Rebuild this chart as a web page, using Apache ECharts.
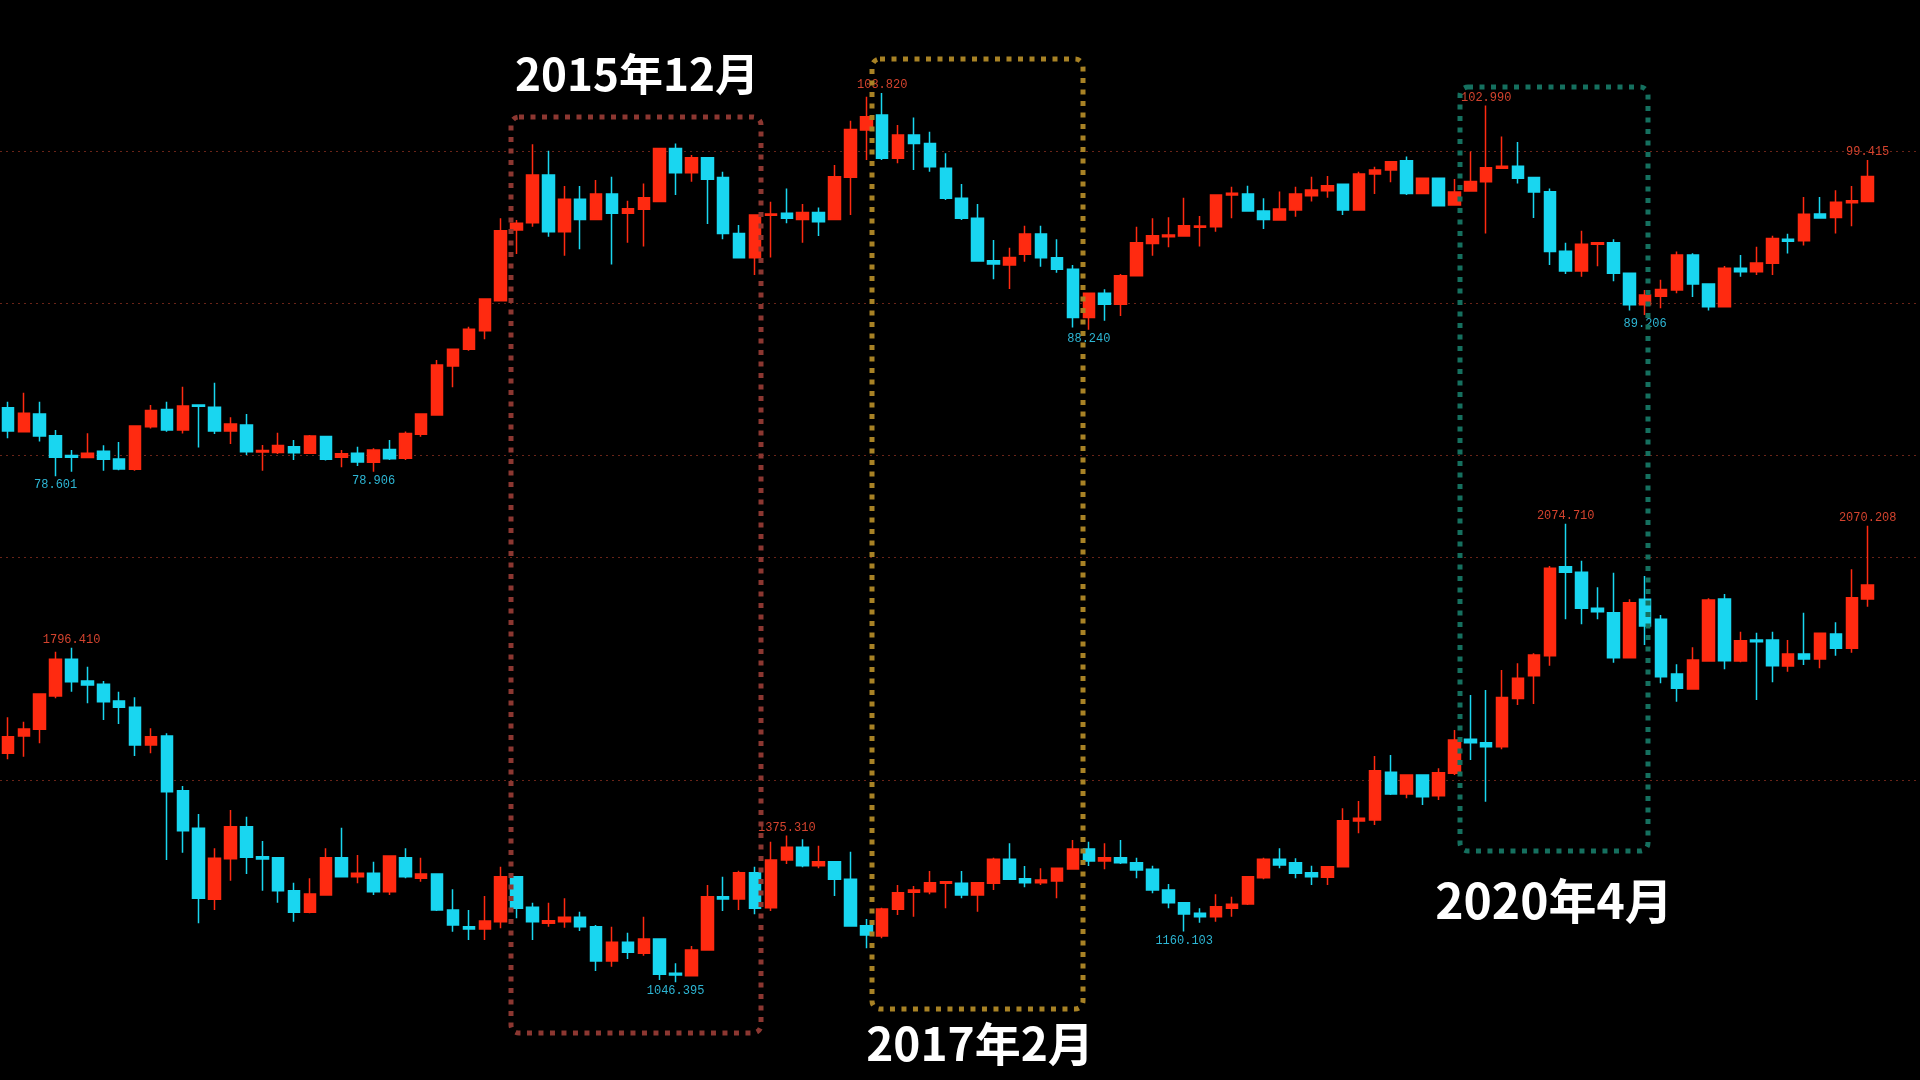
<!DOCTYPE html>
<html><head><meta charset="utf-8">
<script src="https://cdn.jsdelivr.net/npm/echarts@6/dist/echarts.min.js"></script>
<style>html,body{margin:0;padding:0;background:#000;overflow:hidden}#c{width:1920px;height:1080px}</style>
</head><body><div id="c"></div>
<script>
// Monthly candles, 2012-06 .. 2022-03
const categories = ('2012-06 2012-07 2012-08 2012-09 2012-10 2012-11 2012-12 ' +
 '2013-01 2013-02 2013-03 2013-04 2013-05 2013-06 2013-07 2013-08 2013-09 2013-10 2013-11 2013-12 ' +
 '2014-01 2014-02 2014-03 2014-04 2014-05 2014-06 2014-07 2014-08 2014-09 2014-10 2014-11 2014-12 ' +
 '2015-01 2015-02 2015-03 2015-04 2015-05 2015-06 2015-07 2015-08 2015-09 2015-10 2015-11 2015-12 ' +
 '2016-01 2016-02 2016-03 2016-04 2016-05 2016-06 2016-07 2016-08 2016-09 2016-10 2016-11 2016-12 ' +
 '2017-01 2017-02 2017-03 2017-04 2017-05 2017-06 2017-07 2017-08 2017-09 2017-10 2017-11 2017-12 ' +
 '2018-01 2018-02 2018-03 2018-04 2018-05 2018-06 2018-07 2018-08 2018-09 2018-10 2018-11 2018-12 ' +
 '2019-01 2019-02 2019-03 2019-04 2019-05 2019-06 2019-07 2019-08 2019-09 2019-10 2019-11 2019-12 ' +
 '2020-01 2020-02 2020-03 2020-04 2020-05 2020-06 2020-07 2020-08 2020-09 2020-10 2020-11 2020-12 ' +
 '2021-01 2021-02 2021-03 2021-04 2021-05 2021-06 2021-07 2021-08 2021-09 2021-10 2021-11 2021-12 ' +
 '2022-01 2022-02 2022-03').split(' ');

// US dollar index (top)
const dxyOpen = [83.11,81.53,82.70,81.27,79.96,79.83,80.24,79.74,79.06,81.86,83.00,81.64,83.29,83.14,81.58,81.97,80.20,80.17,80.55,80.11,
 81.21,79.85,80.11,79.52,80.37,79.78,81.36,82.63,85.85,86.95,88.18,90.15,94.80,95.28,98.42,94.69,96.82,95.50,97.17,95.90,
 96.16,96.67,100.17,98.57,99.56,98.25,94.58,92.98,95.77,95.90,95.50,95.96,95.50,98.27,101.38,102.37,99.52,101.05,100.50,98.86,
 96.89,95.57,92.78,92.50,93.20,94.54,92.98,92.22,89.04,90.64,89.91,91.80,93.92,94.36,94.41,94.98,95.02,97.11,97.17,96.05,
 95.46,96.12,97.06,97.39,97.81,96.12,98.49,98.75,99.36,97.21,98.20,96.45,97.37,97.98,98.86,99.00,98.25,97.32,93.40,92.11,
 93.86,93.97,91.95,89.89,90.45,90.86,93.16,91.25,89.76,92.28,92.06,92.61,94.19,94.10,95.86,95.62,96.60,96.67];
const dxyClose = [81.58,82.74,81.25,79.85,79.85,80.11,79.72,79.08,81.91,82.92,81.64,83.22,83.20,81.58,82.04,80.22,80.30,80.63,80.15,81.25,
 79.72,80.09,79.54,80.33,79.76,81.42,82.70,85.92,86.95,88.27,90.26,94.76,95.24,98.42,94.69,96.82,95.50,97.17,95.90,96.20,
 96.93,100.17,98.57,99.56,98.14,94.58,92.98,95.79,95.86,95.57,95.96,95.35,98.31,101.42,102.26,99.52,101.05,100.50,98.97,96.89,
 95.57,92.76,92.57,93.00,94.54,92.98,92.22,89.04,90.64,89.91,91.80,93.97,94.43,94.47,95.09,95.07,97.11,97.22,96.05,95.50,
 96.18,97.17,97.43,97.72,96.12,98.49,98.75,99.30,97.21,98.20,96.40,97.30,98.00,98.90,99.00,98.20,97.30,93.38,92.11,93.86,
 93.97,91.95,89.89,90.53,90.88,93.16,91.25,89.76,92.28,92.06,92.63,94.25,94.06,95.84,95.60,96.63,96.73,98.33];
const dxyLow = [81.10,81.49,80.88,78.601,78.90,79.80,78.97,79.00,78.97,81.75,81.53,81.42,80.50,81.38,80.72,80.00,78.97,80.06,79.67,80.06,
 79.63,79.19,79.28,78.906,79.67,79.67,81.20,82.60,84.45,86.86,87.61,90.15,93.22,95.02,94.36,93.11,93.53,95.50,92.54,93.97,
 93.71,96.67,97.10,97.98,95.20,94.19,92.98,91.84,93.00,95.24,93.97,94.41,95.50,95.79,99.41,99.41,99.19,98.75,98.64,96.78,
 95.46,92.76,91.56,90.92,92.72,92.39,91.99,88.38,88.24,88.84,89.15,91.80,93.11,93.66,94.41,93.71,94.69,95.57,96.05,94.87,
 95.46,95.68,96.67,96.93,95.79,96.12,97.17,97.94,97.10,97.21,96.38,96.45,97.37,94.58,98.86,97.87,95.60,92.50,91.90,91.73,
 92.41,91.43,89.50,89.206,89.65,90.64,90.40,89.50,89.71,91.73,91.84,91.84,93.25,93.78,95.55,94.58,95.05,96.67];
const dxyHigh = [83.51,84.10,83.51,81.64,80.33,81.43,80.64,80.86,81.91,83.29,83.51,84.49,83.33,84.76,82.48,82.70,80.66,81.47,80.99,81.31,
 81.27,80.33,80.55,80.44,80.99,81.54,82.74,86.25,86.95,88.44,90.26,95.57,95.46,100.44,100.02,97.70,97.70,98.09,98.31,96.73,
 97.87,100.17,100.50,99.74,99.56,98.64,95.13,95.79,96.66,97.54,96.51,96.29,99.08,101.99,103.57,103.82,101.71,102.20,101.27,99.85,
 97.83,96.51,94.15,93.64,95.09,95.09,94.19,92.50,90.64,90.90,91.91,95.02,95.57,95.64,96.93,95.72,97.11,97.65,97.72,96.89,
 97.33,97.65,98.31,98.36,97.81,98.64,98.97,99.30,99.63,98.20,98.25,98.15,99.96,102.99,100.95,100.60,98.25,97.54,93.97,94.75,
 93.97,94.20,91.95,90.86,91.53,93.38,93.27,91.25,92.43,93.16,93.70,94.42,94.56,96.97,96.97,97.41,97.70,99.415];

// Gold (bottom)
const goldOpen = [1559.8,1598.7,1613.6,1688.3,1770.5,1722.0,1714.5,1677.1,1663.0,1578.5,1598.7,1476.0,1391.6,1232.4,1323.6,1395.4,1328.0,1325.8,1251.9,1203.3,
 1242.2,1325.8,1283.2,1290.7,1249.6,1325.8,1279.5,1289.2,1208.5,1171.0,1166.0,1182.4,1283.3,1214.5,1178.6,1182.4,1192.1,1171.2,1094.2,1136.0,
 1111.4,1143.5,1066.5,1061.3,1118.9,1238.4,1233.2,1292.2,1213.8,1320.6,1349.0,1307.9,1316.9,1277.3,1173.4,1150.2,1210.0,1248.1,1249.6,1268.3,
 1268.3,1242.2,1268.3,1322.1,1278.8,1269.8,1273.5,1300.4,1345.3,1318.4,1325.8,1314.6,1299.7,1253.4,1225.0,1201.0,1193.6,1212.3,1222.0,1281.0,
 1322.1,1314.6,1292.2,1281.8,1305.7,1408.0,1410.3,1517.2,1468.6,1511.2,1464.9,1514.9,1591.2,1583.7,1574.7,1683.0,1733.9,1778.8,1978.3,1965.6,
 1884.9,1875.2,1774.3,1905.1,1860.2,1737.7,1704.0,1766.8,1905.8,1766.8,1813.9,1813.9,1755.6,1782.6,1771.3,1827.4,1795.2,1905.8];
const goldClose = [1597.2,1614.4,1692.8,1770.5,1720.5,1713.0,1675.6,1663.0,1578.5,1597.2,1473.8,1386.4,1234.7,1324.3,1395.4,1326.6,1323.0,1251.9,1203.3,1244.4,
 1325.8,1283.2,1290.7,1249.6,1329.6,1283.2,1289.2,1208.5,1174.9,1166.0,1183.9,1283.2,1212.3,1182.4,1184.6,1192.1,1171.2,1094.2,1136.0,1113.6,
 1143.5,1064.3,1062.8,1118.9,1238.4,1233.2,1292.2,1212.3,1320.6,1349.0,1307.9,1316.9,1277.3,1172.7,1152.5,1210.8,1247.4,1253.4,1269.8,1272.0,
 1242.2,1269.8,1322.1,1277.3,1269.8,1275.8,1301.9,1345.3,1318.4,1325.8,1314.6,1298.2,1253.4,1225.0,1199.6,1193.6,1216.0,1221.3,1283.3,1322.1,
 1309.4,1290.7,1283.3,1305.7,1408.8,1414.0,1521.0,1468.6,1511.2,1462.6,1516.5,1589.7,1583.7,1574.7,1685.0,1728.0,1780.3,1974.6,1965.6,1884.9,
 1877.4,1774.3,1897.6,1845.3,1731.7,1705.5,1769.0,1903.6,1767.5,1812.4,1810.2,1756.4,1782.6,1771.3,1828.8,1795.2,1908.8,1937.2];
const goldLow = [1546.3,1552.3,1582.2,1683.1,1698.1,1672.0,1634.5,1625.6,1553.8,1559.8,1320.6,1337.1,1178.6,1208.5,1274.3,1289.2,1251.9,1225.0,1182.4,1201.0,
 1242.2,1283.2,1268.3,1242.2,1242.2,1279.5,1272.0,1206.0,1160.0,1141.0,1141.0,1167.4,1189.8,1141.2,1171.0,1169.0,1161.4,1071.8,1081.5,1098.7,
 1106.1,1051.6,1046.395,1061.3,1118.9,1206.3,1208.5,1198.8,1206.3,1311.7,1304.2,1302.0,1239.9,1172.7,1122.6,1145.0,1197.3,1193.6,1243.7,1212.3,
 1234.7,1204.8,1253.4,1277.3,1259.4,1264.6,1234.7,1300.4,1307.2,1299.7,1311.7,1279.5,1245.9,1212.3,1160.103,1180.0,1182.4,1193.6,1219.8,1277.3,
 1301.9,1279.5,1264.6,1264.6,1305.7,1380.4,1399.1,1466.4,1458.9,1444.0,1455.2,1511.2,1544.8,1451.4,1568.8,1668.2,1670.4,1756.4,1860.2,1849.0,
 1860.2,1763.1,1774.3,1802.7,1716.7,1675.6,1704.0,1766.8,1748.1,1763.8,1679.4,1719.0,1742.9,1757.8,1750.4,1778.8,1785.5,1888.6];
const goldHigh = [1640.5,1630.8,1692.8,1787.7,1796.41,1754.0,1722.0,1698.0,1685.4,1615.8,1604.6,1486.5,1423.8,1346.8,1432.7,1417.8,1363.2,1325.8,1269.8,1279.5,
 1346.8,1393.1,1331.8,1316.9,1329.6,1346.8,1325.8,1289.2,1254.9,1208.5,1239.9,1305.7,1283.3,1225.0,1225.0,1234.7,1204.8,1174.9,1171.2,1157.7,
 1193.6,1143.5,1089.0,1127.8,1264.6,1283.3,1296.7,1305.7,1361.7,1375.31,1367.0,1352.8,1316.9,1339.3,1188.3,1213.8,1264.6,1262.3,1296.0,1272.0,
 1296.0,1269.8,1325.8,1358.0,1307.2,1301.9,1301.9,1365.5,1361.7,1358.0,1365.5,1325.8,1307.9,1266.8,1225.0,1212.3,1243.7,1238.4,1284.8,1325.8,
 1346.8,1324.3,1307.9,1305.7,1436.5,1452.9,1553.8,1556.0,1511.2,1511.2,1526.2,1612.1,1690.6,1701.8,1746.6,1762.0,1784.0,1979.8,2074.71,1991.8,
 1932.0,1964.9,1905.1,1957.4,1869.9,1759.3,1797.5,1907.3,1917.0,1832.6,1830.3,1832.6,1813.9,1875.2,1828.8,1853.5,1972.3,2070.208];

// dashed reference lines
const dxyGridValues = [80, 90, 100];
const goldGridValues = [1500, 2000];
// extreme-value labels: [index, 'high'|'low']
const dxyMarks = [[3,'low'],[23,'low'],[55,'high'],[68,'low'],[93,'high'],[103,'low'],[117,'high']];
const goldMarks = [[4,'high'],[42,'low'],[49,'high'],[74,'low'],[98,'high'],[117,'high']];
// period annotations
const periodLabels = ['2015年12月', '2017年2月', '2020年4月'];

const UP = '#ff2a10', DOWN = '#19d6f0';
const LBL_UP = '#d4432e', LBL_DOWN = '#2db6d4';

function ohlc(o, c, l, h) { return o.map((v, i) => [o[i], c[i], l[i], h[i]]); }
function marks(list, low, high) {
  return list.map(([i, t]) => {
    const v = t === 'high' ? high[i] : low[i];
    return {
      coord: [i, v], value: v,
      label: { offset: [0, t === 'high' ? -8 : 9], color: t === 'high' ? LBL_UP : LBL_DOWN }
    };
  });
}
const markStyle = {
  symbol: 'rect', symbolSize: 1, itemStyle: { color: 'rgba(0,0,0,0)' },
  label: { show: true, position: 'inside', fontFamily: 'Liberation Mono', fontSize: 12,
    formatter: p => Number(p.value).toFixed(3) },
  animation: false
};

const chart = echarts.init(document.getElementById('c'), null, { renderer: 'canvas' });
const candleStyle = { color: UP, color0: DOWN, borderColor: UP, borderColor0: DOWN, borderWidth: 1.5 };
chart.setOption({
  backgroundColor: '#000',
  animation: false,
  grid: [
    { left: -1.25, right: 44.35, top: 59.8, height: 456 },
    { left: -1.25, right: 44.35, top: 467.8, height: 535.2 }
  ],
  xAxis: [
    { type: 'category', gridIndex: 0, data: categories, show: false },
    { type: 'category', gridIndex: 1, data: categories, show: false }
  ],
  yAxis: [
    { type: 'value', gridIndex: 0, min: 76, max: 106, show: false, splitLine: { show: false } },
    { type: 'value', gridIndex: 1, min: 1000, max: 2200, show: false, splitLine: { show: false } }
  ],
  series: [
    { type: 'candlestick', name: '美元指数', xAxisIndex: 0, yAxisIndex: 0, barWidth: 12,
      data: ohlc(dxyOpen, dxyClose, dxyLow, dxyHigh), itemStyle: candleStyle,
      markPoint: Object.assign({}, markStyle, { data: marks(dxyMarks, dxyLow, dxyHigh) }) },
    { type: 'candlestick', name: '黄金', xAxisIndex: 1, yAxisIndex: 1, barWidth: 12,
      data: ohlc(goldOpen, goldClose, goldLow, goldHigh), itemStyle: candleStyle,
      markPoint: Object.assign({}, markStyle, { data: marks(goldMarks, goldLow, goldHigh) }) }
  ]
});

// full-width dashed reference lines and annotation boxes
const graphics = [];
dxyGridValues.forEach(v => {
  const y = Math.round(chart.convertToPixel({ yAxisIndex: 0 }, v)) + 0.5;
  graphics.push({ type: 'line', z: 1, silent: true, shape: { x1: 0, y1: y, x2: 1920, y2: y },
    style: { stroke: '#6a2418', lineWidth: 1, lineDash: [2, 4] } });
});
goldGridValues.forEach(v => {
  const y = Math.round(chart.convertToPixel({ yAxisIndex: 1 }, v)) + 0.5;
  graphics.push({ type: 'line', z: 1, silent: true, shape: { x1: 0, y1: y, x2: 1920, y2: y },
    style: { stroke: '#6a2418', lineWidth: 1, lineDash: [2, 4] } });
});
const boxes = [
  { x: 511, y: 117, w: 250, h: 916, c: '#8c3731' },
  { x: 872, y: 59, w: 211, h: 950, c: '#a88225' },
  { x: 1460, y: 87, w: 188, h: 764, c: '#15705f' }
];
boxes.forEach(b => graphics.push({ type: 'rect', z: 100, silent: true,
  shape: { x: b.x, y: b.y, width: b.w, height: b.h, r: 8 },
  style: { fill: 'none', stroke: b.c, lineWidth: 5, lineDash: [5, 6.5] } }));
const textPos = [[637, 74, 44], [980, 1044, 46], [1554, 901, 48]];
periodLabels.forEach((t, k) => graphics.push({ type: 'text', z: 120, silent: true,
  x: textPos[k][0], y: textPos[k][1],
  style: { text: t, fill: '#ffffff', font: 'bold ' + textPos[k][2] + 'px "Noto Sans CJK SC", sans-serif',
    textAlign: 'center', textVerticalAlign: 'middle' } }));
chart.setOption({ graphic: graphics });
</script>
</body></html>
